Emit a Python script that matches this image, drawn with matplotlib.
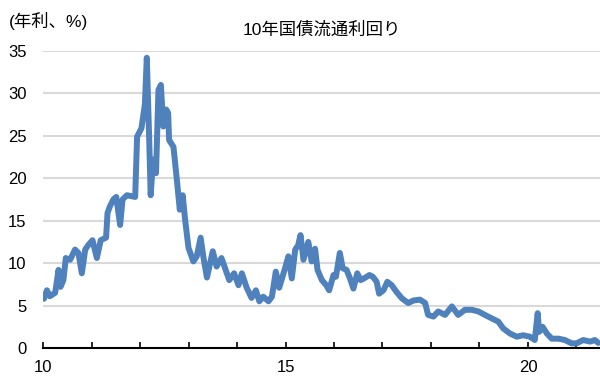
import matplotlib
matplotlib.use("Agg")
import matplotlib.pyplot as plt
import numpy as np

plt.rcParams['font.family'] = ['Liberation Sans', 'Noto Sans CJK JP', 'DejaVu Sans']

# 年 (2桁表記) と10年国債利回り (%), 図から読み取り
years = [10.02, 10.08, 10.14, 10.25, 10.32, 10.36, 10.42, 10.47, 10.56, 10.66,
         10.73, 10.80, 10.87, 10.93, 11.02, 11.11, 11.19, 11.30, 11.33, 11.38,
         11.45, 11.51, 11.59, 11.64, 11.73, 11.90, 11.94, 12.03, 12.10, 12.14,
         12.19, 12.22, 12.27, 12.33, 12.38, 12.43, 12.48, 12.54, 12.58, 12.60,
         12.69, 12.76, 12.82, 12.88, 12.93, 13.00, 13.10, 13.17, 13.25, 13.31,
         13.38, 13.50, 13.58, 13.68, 13.84, 13.94, 14.03, 14.10, 14.20, 14.30,
         14.39, 14.46, 14.54, 14.65, 14.72, 14.80, 14.87, 14.99, 15.06, 15.13,
         15.20, 15.26, 15.31, 15.37, 15.47, 15.54, 15.61, 15.66, 15.75, 15.84,
         15.90, 15.99, 16.04, 16.12, 16.18, 16.26, 16.33, 16.40, 16.48, 16.55,
         16.62, 16.73, 16.80, 16.88, 16.93, 17.02, 17.10, 17.19, 17.29, 17.40,
         17.53, 17.64, 17.77, 17.88, 17.94, 18.05, 18.15, 18.29, 18.43, 18.56,
         18.70, 18.84, 18.98, 19.11, 19.25, 19.39, 19.49, 19.63, 19.77, 19.90,
         20.04, 20.14, 20.20, 20.23, 20.30, 20.39, 20.49, 20.63, 20.76, 20.90,
         21.00, 21.14, 21.28, 21.38, 21.45]
yields = [5.8, 6.8, 6.1, 6.5, 9.2, 7.2, 8.0, 10.6, 10.4, 11.6,
          11.2, 8.8, 11.6, 12.1, 12.7, 10.6, 12.7, 13.0, 15.9, 16.7,
          17.5, 17.8, 14.5, 17.5, 18.0, 17.8, 24.9, 25.9, 28.7, 34.2,
          24.5, 18.0, 22.2, 20.6, 30.4, 31.0, 26.1, 28.1, 27.7, 24.5,
          23.7, 19.8, 16.3, 18.0, 15.1, 11.8, 10.2, 10.8, 13.0, 10.6,
          8.3, 11.4, 9.6, 10.6, 8.0, 8.8, 7.4, 8.8, 7.1, 5.9,
          6.8, 5.5, 6.05, 5.5, 6.05, 9.0, 7.1, 9.4, 10.8, 8.2,
          11.6, 12.1, 13.3, 10.4, 12.5, 10.2, 11.7, 9.2, 8.0, 7.4,
          6.8, 8.6, 8.4, 11.2, 9.4, 9.2, 8.2, 7.0, 8.8, 8.0,
          8.2, 8.6, 8.4, 7.8, 6.4, 6.8, 7.8, 7.4, 6.6, 5.85,
          5.3, 5.6, 5.7, 5.3, 3.9, 3.7, 4.3, 3.9, 4.9, 3.9,
          4.5, 4.5, 4.3, 3.9, 3.5, 3.1, 2.3, 1.7, 1.33, 1.5,
          1.33, 0.94, 4.1, 1.9, 2.5, 1.7, 1.1, 1.1, 0.94, 0.55,
          0.55, 0.94, 0.75, 0.94, 0.6]

x_labels = [10, 15, 20]
y_ticks = [0, 5, 10, 15, 20, 25, 30, 35]

fig = plt.figure(figsize=(6, 3.83), dpi=100)
ax = fig.add_axes([0.0717, 0.0914, 0.9283, 0.7755])

ax.plot(years, yields, color='#4F81BD', linewidth=4.3,
        solid_joinstyle='round', solid_capstyle='round', zorder=3)

ax.set_xlim(10, 21.485)
ax.set_ylim(0, 35)
ax.set_yticks(y_ticks)
ax.set_xticks(x_labels)
ax.set_xticks(np.arange(10, 22), minor=True)
ax.set_xticklabels([str(v) for v in x_labels], fontsize=12)
ax.set_yticklabels([str(v) for v in y_ticks], fontsize=12)
ax.tick_params(axis='y', length=0, pad=12)
ax.tick_params(axis='x', which='both', direction='in', length=4, width=1.2, pad=9)

ax.grid(axis='y', color='#D9D9D9', linewidth=1.5, zorder=0)
ax.set_axisbelow(True)
for side in ['left', 'right', 'top']:
    ax.spines[side].set_visible(False)
ax.spines['bottom'].set_linewidth(1.5)
ax.spines['bottom'].set_zorder(4)

fig.text(0.536, 0.922, '10年国債流通利回り', ha='center', va='center', fontsize=12.5)
fig.text(0.014, 0.945, '(年利、%)', ha='left', va='center', fontsize=12.5)

fig.savefig('out.png', dpi=100)
